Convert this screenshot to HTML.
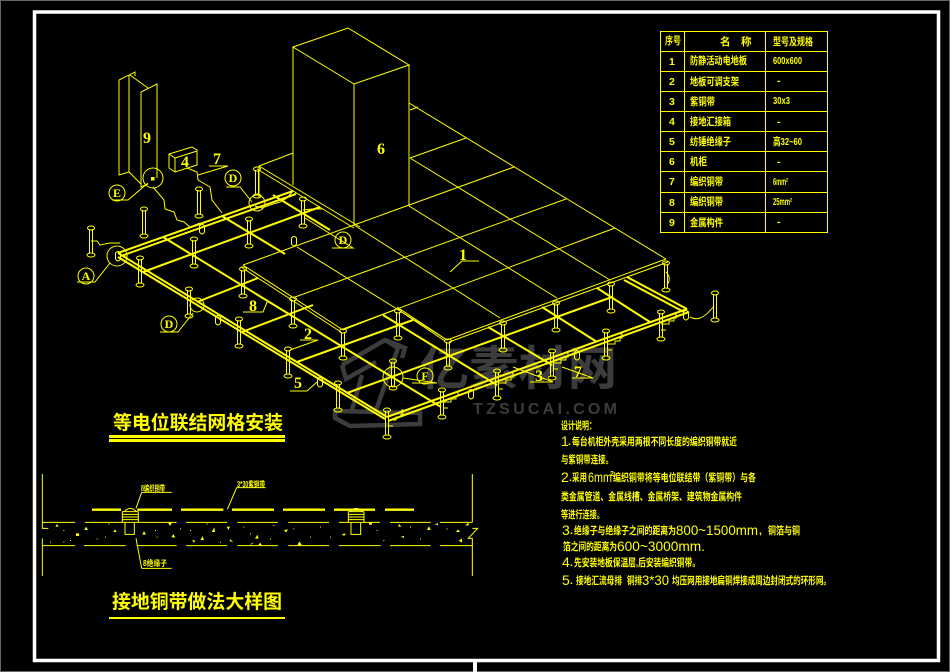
<!DOCTYPE html>
<html lang="zh"><head><meta charset="utf-8"><title>等电位联结网格安装</title>
<style>
html,body{margin:0;padding:0;background:#000;width:950px;height:672px;overflow:hidden}
svg{display:block}
text{font-family:"Liberation Sans","Noto Sans CJK SC",sans-serif;fill:#ff0}
.s text,text.s{font-family:"Liberation Serif","Noto Serif CJK SC",serif}
.l{fill:none;stroke:#ff0;stroke-width:1}
.m{fill:none;stroke:#ff0;stroke-width:2}
.c{fill:#000;stroke:#ff0;stroke-width:1}
.n text{font-size:10.5px;font-weight:bold}
.n text.cf{font-size:14px;font-weight:normal}
.g{fill:none;stroke:#3c3c3c;stroke-width:4.500}
.tb text{font-size:10.5px;font-weight:bold}
</style></head><body>
<svg width="950" height="672" viewBox="0 0 950 672" xmlns="http://www.w3.org/2000/svg">
<defs>
<g id="p" class="l"><ellipse cx="0" cy="1" rx="3.5" ry="2"/><ellipse cx="0" cy="28" rx="4" ry="2"/><path d="M-1.5 2V26M1.5 2V26"/></g>
<g id="b" class="l"><path d="M-2.5 -3V3Q0 7 2.5 3V-3Q0 -6 -2.5 -3Z"/></g>
<g id="w" class="l"><path d="M0 0H8V-3H13V-6H15V-10H13"/><path d="M0 6H5"/></g>
</defs>
<rect width="950" height="672" fill="#000"/>
<rect x=".5" y=".5" width="949" height="671" fill="none" stroke="#666"/>
<rect x="34.5" y="12" width="904" height="648.5" fill="none" stroke="#fff" stroke-width="3.5"/>
<rect x="473" y="660" width="4" height="12" fill="#fff"/>

<!-- watermark -->
<g>
<path class="g" d="M342 365L385 340L405 348L402 358M342 365L346 379L376 362M385 340L398 348L375 413M362 375L352 410M335 411L420 413L420 424L350 426L335 418Z"/>
<text x="420" y="385" font-size="47" font-weight="bold" textLength="197" lengthAdjust="spacingAndGlyphs" style="fill:#3c3c3c">亿素材网</text>
<text x="473" y="414" font-size="16" font-weight="bold" textLength="144" style="fill:#3c3c3c">TZSUCAI.COM</text>
</g>

<!-- floor plates and cabinet -->
<g class="l">
<path d="M293 47L348 28L409 65L354 84ZM293 47V185M354 84V225M409 65V206"/>
<path d="M409 103L666 259M410 158L610 280M409 206L557 298M354 225L500 318M297 247L447 340M243 265L343 330"/>
<path d="M410 110L418 107M410 158L466 138M354 225L514 167M295 297L566 199M343 329L615 228M447 340L666 259"/>
<path d="M243 265L354 225M259 166L293 153M259 166L360 227M257 169L354 228"/>
<path d="M241 267L341 332M397 309L445 341M449 342L668 262M343 330L397 309M397 307L447 340"/>
<path d="M259 166V198"/>
</g>

<!-- mesh -->
<g class="m">
<path d="M118 253L293 191M121 256L296 194"/>
<path d="M118 253L387 417M118 257L385 419"/>
<path d="M387 417L687 309M388 421L689 312"/>
<path d="M687 309L627 277M684 312L624 280"/>
<path d="M143 272L320 207M197 302L258 278M242 332L313 305M297 362L413 320M347 393L612 297"/>
<path d="M163 237L441 407M222 216L285 254M383 315L497 385M273 195L330 230M488 327L552 365M542 307L597 342M597 288L650 322"/>
</g>

<!-- pedestals -->
<use href="#p" x="91" y="227"/><use href="#p" x="144" y="208"/><use href="#p" x="199" y="188"/><use href="#p" x="257" y="168"/>
<use href="#p" x="140" y="257"/><use href="#p" x="194" y="238"/><use href="#p" x="249" y="218"/><use href="#p" x="303" y="198"/>
<use href="#p" x="189" y="288"/><use href="#p" x="243" y="268"/><use href="#p" x="239" y="318"/><use href="#p" x="293" y="298"/>
<use href="#p" x="288" y="348"/><use href="#p" x="343" y="330"/><use href="#p" x="338" y="382"/><use href="#p" x="393" y="360"/>
<use href="#p" x="398" y="310"/><use href="#p" x="387" y="409"/><use href="#p" x="442" y="389"/><use href="#p" x="497" y="370"/>
<use href="#p" x="552" y="350"/><use href="#p" x="606" y="330"/><use href="#p" x="661" y="311"/><use href="#p" x="715" y="292"/>
<use href="#p" x="448" y="340"/><use href="#p" x="503" y="322"/><use href="#p" x="556" y="302"/><use href="#p" x="611" y="283"/><use href="#p" x="666" y="262"/>

<!-- insulators -->
<use href="#b" x="202" y="229"/><use href="#b" x="294" y="241"/><use href="#b" x="218" y="320"/><use href="#b" x="320" y="382"/>
<use href="#b" x="471" y="394"/><use href="#b" x="577" y="355"/><use href="#b" x="686" y="315"/><use href="#b" x="118" y="256"/>

<!-- small braids -->
<use href="#w" x="388" y="420"/><use href="#w" x="443" y="402"/><use href="#w" x="498" y="383"/><use href="#w" x="607" y="344"/><use href="#w" x="661" y="324"/>
<use href="#w" x="553" y="363"/>
<g class="l">
<path d="M666 272Q672 278 667 285"/>
<path d="M690 317Q696 320 700 318Q706 316 714 306"/>
<path d="M91 241H97L100 245L110 243L120 243"/>
<path d="M153 187L164 200L165 209L174 212L177 220L184 222L190 227L200 223"/>
<path d="M187 168L197 172L198 180L210 187L212 200L222 213"/>
<path d="M255 206L262 208L270 205L280 202L287 198L293 191"/>
<path d="M303 210L312 209L322 209"/>
</g>

<!-- beam 9 -->
<g class="l">
<path d="M119 80L135 72V76M129 75V172M119 80V175L129 172L141 184M130 75L148 88M141 92L157 84V178M141 92V187L148 184"/>
</g>
<!-- box 4 -->
<path class="l" d="M169 154L192 147L197 150V165L175 172L169 168ZM169 154L175 158V172M175 158L197 151"/>

<!-- leaders -->
<g class="l">
<circle cx="153" cy="178" r="10"/><circle cx="117" cy="256" r="10"/><circle cx="117" cy="193" r="8"/><circle cx="86" cy="276" r="8"/>
<circle cx="233" cy="178" r="8"/><circle cx="343" cy="240" r="8"/><circle cx="169" cy="324" r="8"/><circle cx="425" cy="376" r="8"/><circle cx="393" cy="377" r="10"/>
<circle cx="257" cy="203" r="8"/><circle cx="197" cy="305" r="7"/>
<path d="M112 200H128L148 183M77 282H95L110 263M209 166H228L198 175M226 187H240L252 202M332 248H353L305 218M160 332H178L193 313"/>
<path d="M243 312H263L268 300M300 340H318L290 350M290 391H307L317 382M412 383H437L403 378M530 382H553L513 367M572 378H593L562 367"/>
<path d="M462 261L450 272M462 261H479"/>
</g>
<rect x="151" y="177" width="3.5" height="3.5" fill="#ff0"/>
<g class="s" font-weight="bold" font-size="12" text-anchor="middle">
<text x="117" y="197">E</text><text x="86" y="280">A</text><text x="233" y="182">D</text><text x="343" y="244">D</text><text x="169" y="328">D</text><text x="425" y="380">F</text>
</g>
<g class="s" font-size="16" font-weight="bold" text-anchor="middle">
<text x="217" y="164">7</text><text x="253" y="311">8</text><text x="308" y="339">2</text><text x="298" y="388">5</text><text x="539" y="381">3</text><text x="578" y="377">7</text><text x="463" y="260">1</text><text x="381" y="154">6</text><text x="147" y="143">9</text><text x="185" y="167">4</text>
</g>

<!-- table -->
<g class="l">
<rect x="660.5" y="31.5" width="167" height="201"/>
<path d="M684.500 31V232M765.500 31V232M660 51.500H828M660 71.500H828M660 91.500H828M660 111.500H828M660 131.500H828M660 151.500H828M660 171.500H828M660 192.500H828M660 212.500H828"/>
</g>
<g class="tb">
<text x="665" y="44" textLength="16" lengthAdjust="spacingAndGlyphs">序号</text><text x="720" y="45">名</text><text x="741" y="45">称</text><text x="773" y="45" textLength="40" lengthAdjust="spacingAndGlyphs">型号及规格</text>
<text x="669" y="65">1</text><text x="669" y="85">2</text><text x="669" y="105">3</text><text x="669" y="125">4</text><text x="669" y="145">5</text><text x="669" y="165">6</text><text x="669" y="185">7</text><text x="669" y="206">8</text><text x="669" y="226">9</text>
<text x="690" y="64" textLength="57" lengthAdjust="spacingAndGlyphs">防静活动电地板</text><text x="690" y="85" textLength="49" lengthAdjust="spacingAndGlyphs">地板可调支架</text><text x="690" y="105" textLength="25" lengthAdjust="spacingAndGlyphs">紫铜带</text><text x="690" y="125" textLength="41" lengthAdjust="spacingAndGlyphs">接地汇接箱</text><text x="690" y="145" textLength="41" lengthAdjust="spacingAndGlyphs">纺锤绝缘子</text><text x="690" y="165" textLength="17" lengthAdjust="spacingAndGlyphs">机柜</text><text x="690" y="185" textLength="33" lengthAdjust="spacingAndGlyphs">编织铜带</text><text x="690" y="205" textLength="33" lengthAdjust="spacingAndGlyphs">编织铜带</text><text x="690" y="226" textLength="33" lengthAdjust="spacingAndGlyphs">金属构件</text>
<text x="773" y="64" textLength="29" lengthAdjust="spacingAndGlyphs">600x600</text><text x="777" y="84">-</text><text x="773" y="104" textLength="17" lengthAdjust="spacingAndGlyphs">30x3</text><text x="777" y="125">-</text><text x="773" y="145" textLength="29" lengthAdjust="spacingAndGlyphs">高32~60</text><text x="777" y="165">-</text><text x="773" y="185" textLength="15" lengthAdjust="spacingAndGlyphs">6mm²</text><text x="773" y="205" textLength="19" lengthAdjust="spacingAndGlyphs">25mm²</text><text x="777" y="225">-</text>
</g>

<!-- titles -->
<text x="113" y="429" font-size="19" font-weight="bold" textLength="170" lengthAdjust="spacingAndGlyphs">等电位联结网格安装</text>
<rect x="109" y="435" width="176" height="3" fill="#ff0"/><rect x="109" y="439" width="176" height="3" fill="#ff0"/>
<text x="112" y="608" font-size="19" font-weight="bold" textLength="170" lengthAdjust="spacingAndGlyphs">接地铜带做法大样图</text>
<rect x="109" y="617" width="176" height="2" fill="#ff0"/>

<!-- section detail -->
<g transform="translate(30 470) scale(.33333)">
<g fill="none" stroke="#ff0" stroke-width="3">
<path d="M37 12V175H55M37 205V318M1327 12V157M1327 175H1343L1315 205H1327V318"/>
<path d="M37 157H135M165 157H440M468 157H592M622 157H744M775 157H897M927 157H1050M1080 157H1202M1230 157H1327"/>
<path d="M37 227H135M162 227H287M320 227H440M468 227H592M622 227H744M775 227H897M927 227H1052M1080 227H1202M1230 227H1327"/>
<path d="M277 125H325M277 133H325M277 141H325M277 149H325M277 125V157M325 125V157M285 157V193H313V157M283 125Q300 105 320 125"/>
<path d="M955 125H1002M955 133H1002M955 141H1002M955 149H1002M955 125V157M1002 125V157M963 157V193H992V157M961 125Q978 105 997 125"/>
<path d="M335 67H425M335 67L318 115M335 295H425M335 295L318 205M620 53H707M620 53L592 118"/>
</g>
<g fill="none" stroke="#ff0" stroke-width="7">
<path d="M186 119H273M322 119H426M453 119H580M606 119H732M759 119H885M912 119H1035M1065 119H1152"/>
</g>
<g fill="#ff0">
<path d="M76 170L86 170L81 162ZM163 180L174 180L168 170ZM250 186L260 186L255 178ZM337 194L348 194L342 183ZM424 202L436 202L430 192ZM512 210L522 210L517 198ZM545 186L555 186L553 172ZM590 170L600 170L595 180ZM598 212L610 218L602 208ZM660 226L672 218L664 220ZM675 206L686 206L682 194ZM685 226L696 226L690 218ZM762 180L774 178L768 188ZM802 226L816 226L808 214ZM936 192L948 190L942 198ZM1017 158H1026V164H1017ZM1104 170L1114 170L1108 162ZM1191 180L1202 180L1197 168ZM1278 186L1290 186L1284 178ZM1305 166H1316V158ZM1286 212L1296 218V206ZM1112 200L1122 204V198ZM1214 162L1224 166V160ZM138 190H147V198H138ZM414 158H426L420 168ZM486 210L496 212L492 218Z"/>
<path d="M100 180h3v3h-3zM120 210h3v3h-3zM200 205h3v3h-3zM235 160h3v3h-3zM380 200h3v3h-3zM450 175h3v3h-3zM480 180h3v3h-3zM530 160h3v3h-3zM570 215h3v3h-3zM640 170h3v3h-3zM660 190h3v3h-3zM720 205h3v3h-3zM730 165h3v3h-3zM790 175h3v3h-3zM840 200h3v3h-3zM870 170h3v3h-3zM900 200h3v3h-3zM1040 180h3v3h-3zM1060 210h3v3h-3zM1140 170h3v3h-3zM1170 205h3v3h-3zM1250 175h3v3h-3zM60 215h3v3h-3zM100 215h3v3h-3zM225 200h3v3h-3zM375 180h3v3h-3z"/>
</g>
</g>
<text x="141" y="491" font-size="8" font-weight="bold" textLength="24" lengthAdjust="spacingAndGlyphs">8编织铜带</text>
<text x="143" y="566" font-size="8" font-weight="bold" textLength="24" lengthAdjust="spacingAndGlyphs">8绝缘子</text>
<text x="237" y="487" font-size="8" font-weight="bold" textLength="28" lengthAdjust="spacingAndGlyphs">3*30紫铜带</text>

<!-- notes -->
<g class="n">
<text x="561" y="429" textLength="35" lengthAdjust="spacingAndGlyphs">设计说明：</text>

<text class="cf" x="561" y="446">1</text>
<text x="568" y="445">.</text>
<text x="572" y="445" textLength="165" lengthAdjust="spacingAndGlyphs">每台机柜外壳采用两根不同长度的编织铜带就近</text>

<text x="561" y="463" textLength="52" lengthAdjust="spacingAndGlyphs">与紫铜带连接。</text>

<text class="cf" x="561" y="482">2</text>
<text x="569" y="481">.</text>
<text x="572" y="481" textLength="15" lengthAdjust="spacingAndGlyphs">采用</text>
<text class="cf" x="588" y="482" textLength="24" lengthAdjust="spacingAndGlyphs">6mm</text>
<text x="610" y="476" style="font-size:7px">2</text>
<text x="613" y="481" textLength="143" lengthAdjust="spacingAndGlyphs">编织铜带将等电位联结带（紫铜带）与各</text>

<text x="561" y="500" textLength="181" lengthAdjust="spacingAndGlyphs">类金属管道、金属线槽、金属桥架、建筑物金属构件</text>

<text x="561" y="518" textLength="43" lengthAdjust="spacingAndGlyphs">等进行连接。</text>

<text class="cf" x="562" y="535">3</text>
<text x="570" y="534">.</text>
<text x="574" y="534" textLength="102" lengthAdjust="spacingAndGlyphs">绝缘子与绝缘子之间的距离为</text>
<text class="cf" x="676" y="535" textLength="82" lengthAdjust="spacingAndGlyphs">800~1500mm</text>
<text x="759" y="534">,</text>
<text x="768" y="534" textLength="32" lengthAdjust="spacingAndGlyphs">铜箔与铜</text>

<text x="563" y="550" textLength="54" lengthAdjust="spacingAndGlyphs">箔之间的距离为</text>
<text class="cf" x="617" y="551" textLength="88" lengthAdjust="spacingAndGlyphs">600~3000mm.</text>

<text class="cf" x="562" y="567">4</text>
<text x="570" y="566">.</text>
<text x="574" y="566" textLength="126" lengthAdjust="spacingAndGlyphs">先安装地板保温层,后安装编织铜带。</text>

<text class="cf" x="562" y="585">5</text>
<text x="570" y="584">.</text>
<text x="576" y="584" textLength="46" lengthAdjust="spacingAndGlyphs">接地汇流母排</text>
<text x="627" y="584" textLength="15" lengthAdjust="spacingAndGlyphs">铜排</text>
<text class="cf" x="642" y="585" textLength="27" lengthAdjust="spacingAndGlyphs">3*30</text>
<text x="672" y="584" textLength="159" lengthAdjust="spacingAndGlyphs">均压网用接地扁铜焊接成周边封闭式的环形网。</text>
</g>
</svg>
</body></html>
